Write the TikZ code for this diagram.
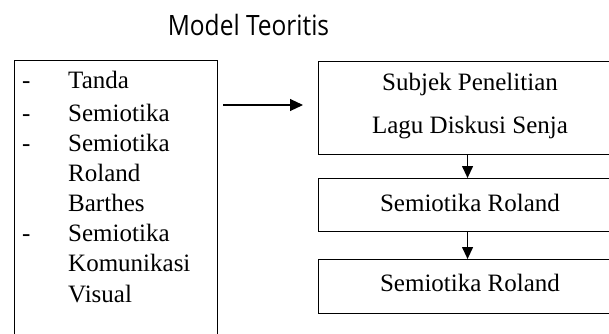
\documentclass[tikz,border=0pt]{standalone}
\usepackage{fontspec}
\setmainfont{Liberation Serif}
\newfontfamily\titlefont{Open Sans}
\usetikzlibrary{arrows.meta}
\begin{document}
\begin{tikzpicture}[x=1pt,y=-1pt,
  box/.style={draw, line width=1.1pt, rectangle, inner sep=0pt},
  txt/.style={font=\fontsize{25}{28}\selectfont, inner sep=0pt},
  arr/.style={line width=1.1pt, -{Triangle[length=13pt,width=12pt]}},
  varr/.style={line width=1.1pt, -{Triangle[length=12pt,width=11pt]}}]
\useasboundingbox (0,0) rectangle (609,333);
\fill[white] (0,0) rectangle (609,333);
\clip (0,0) rectangle (609,333);
\node[font=\titlefont\fontsize{28}{32}\selectfont, inner sep=0pt, anchor=base] (title) at (248.5,35) {\scalebox{0.875}[1]{Model Teoritis}};
% left box
\node[box, anchor=north west, minimum width=203pt, minimum height=290pt] (L) at (14,60) {};
\foreach \y/\n in {88/d1,121/d2,151/d3,241/d4}{
  \node[txt, anchor=base west] (\n) at (22,\y) {-};
}
\node[txt, anchor=base west] (l1) at (68,88) {Tanda};
\node[txt, anchor=base west] (l2) at (68,121) {Semiotika};
\node[txt, anchor=base west] (l3) at (68,151) {Semiotika};
\node[txt, anchor=base west] (l4) at (68,181) {Roland};
\node[txt, anchor=base west] (l5) at (68,211) {Barthes};
\node[txt, anchor=base west] (l6) at (68,241) {Semiotika};
\node[txt, anchor=base west] (l7) at (68,271) {Komunikasi};
\node[txt, anchor=base west] (l8) at (68,302) {Visual};
% right boxes
\node[box, anchor=north west, minimum width=298pt, minimum height=93pt] (T) at (318,61) {};
\node[box, anchor=north west, minimum width=298pt, minimum height=53pt] (M) at (318,178) {};
\node[box, anchor=north west, minimum width=298pt, minimum height=54pt] (B) at (318,259) {};
\node[txt, anchor=base] (t1) at (470,90) {Subjek Penelitian};
\node[txt, anchor=base] (t2) at (470,133) {Lagu Diskusi Senja};
\node[txt, anchor=base] (t3) at (470,211.5) {Semiotika Roland};
\node[txt, anchor=base] (t4) at (470,291.5) {Semiotika Roland};
% arrows
\coordinate (a1) at (223,105);
\coordinate (a2) at (303,105);
\draw[arr] (a1) -- (a2);
\draw[varr] (T.south) -- (M.north);
\draw[varr] (M.south) -- (B.north);
\end{tikzpicture}
\end{document}
